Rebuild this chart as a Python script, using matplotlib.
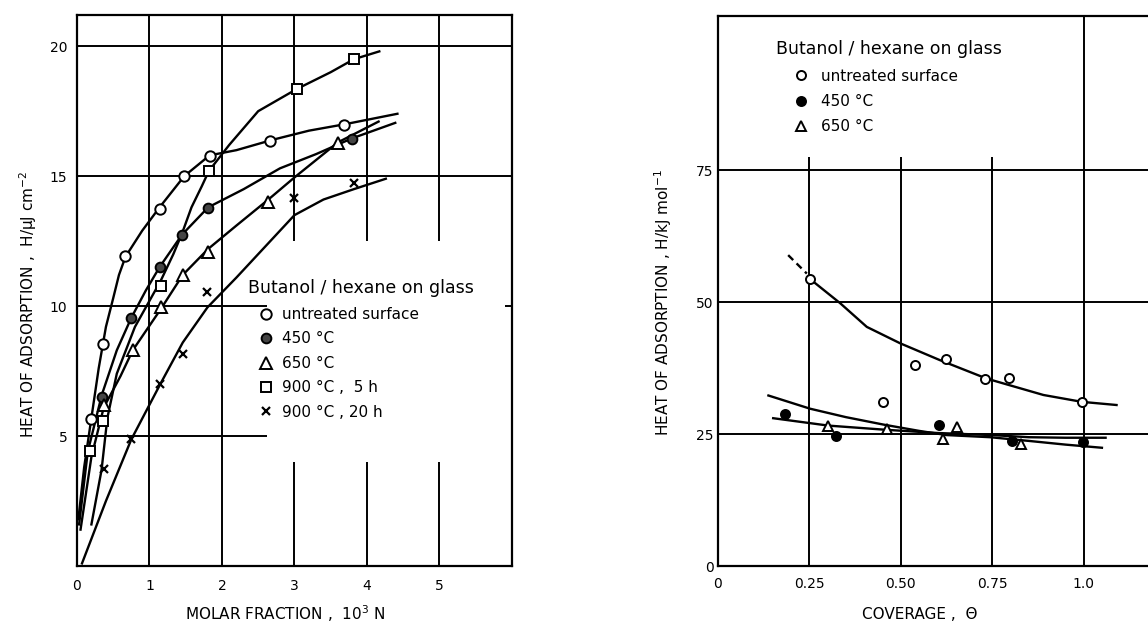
import matplotlib
matplotlib.use("Agg")
import matplotlib.pyplot as plt

plt.rcParams["font.family"] = ["DejaVu Sans"]
plt.rcParams["mathtext.fontset"] = "dejavusans"

# ─── left panel data: heat of adsorption vs molar fraction ────────────────────
untreated_x = [0.20, 0.36, 0.665, 1.14, 1.48, 1.83, 2.66, 3.68]
untreated_y = [5.65, 8.55, 11.94, 13.74, 14.99, 15.79, 16.34, 16.98]
t450_x = [0.345, 0.75, 1.14, 1.45, 1.81, 3.79]
t450_y = [6.52, 9.54, 11.51, 12.73, 13.76, 16.44]
t650_x = [0.37, 0.77, 1.16, 1.46, 1.81, 2.64, 3.60]
t650_y = [6.18, 8.31, 9.95, 11.20, 12.09, 14.00, 16.29]
t900_5h_x = [0.18, 0.36, 1.16, 1.82, 3.03, 3.82]
t900_5h_y = [4.41, 5.57, 10.76, 15.19, 18.35, 19.50]
t900_20h_x = [0.37, 0.75, 1.15, 1.46, 1.80, 2.99, 3.82]
t900_20h_y = [3.73, 4.87, 7.01, 8.15, 10.56, 14.15, 14.72]

# hand-drawn curves
fit_untreated_x = [0.02, 0.10, 0.20, 0.30, 0.40, 0.50, 0.58, 0.67, 0.90, 1.14, 1.48, 1.83, 2.20, 2.70, 3.20, 3.70, 4.42]
fit_untreated_y = [1.8, 3.8, 5.7, 7.6, 9.2, 10.3, 11.2, 11.9, 12.9, 13.8, 15.0, 15.8, 16.0, 16.4, 16.75, 17.0, 17.4]
fit_450_x = [0.03, 0.15, 0.345, 0.55, 0.75, 0.95, 1.14, 1.45, 1.81, 2.30, 2.80, 3.30, 3.79, 4.39]
fit_450_y = [1.6, 4.4, 6.6, 8.3, 9.55, 10.6, 11.5, 12.75, 13.8, 14.5, 15.3, 15.85, 16.45, 17.05]
fit_650_x = [0.05, 0.20, 0.37, 0.60, 0.77, 1.16, 1.46, 1.81, 2.20, 2.64, 3.00, 3.60, 4.16]
fit_650_y = [1.4, 4.2, 6.1, 7.3, 8.3, 9.9, 11.2, 12.2, 13.1, 14.1, 14.95, 16.3, 17.1]
fit_5h_x = [0.20, 0.34, 0.42, 0.55, 0.80, 1.00, 1.16, 1.33, 1.45, 1.58, 1.72, 1.82, 2.10, 2.50, 3.03, 3.50, 3.82, 4.17]
fit_5h_y = [1.6, 3.7, 5.7, 7.4, 9.2, 10.2, 11.0, 12.0, 12.8, 13.8, 14.6, 15.2, 16.2, 17.5, 18.35, 19.0, 19.5, 19.8]
fit_20h_x = [0.07, 0.40, 0.75, 1.15, 1.46, 1.80, 2.20, 2.60, 3.00, 3.40, 3.82, 4.26]
fit_20h_y = [0.1, 2.5, 4.87, 7.0, 8.6, 9.95, 11.1, 12.3, 13.5, 14.1, 14.5, 14.9]

x_ticks_left = [0, 1, 2, 3, 4, 5]
y_ticks_left = [5, 10, 15, 20]

# ─── right panel data: heat of adsorption vs coverage ─────────────────────────
cov_untreated_x = [0.252, 0.45, 0.539, 0.624, 0.73, 0.797, 0.995]
cov_untreated_y = [54.3, 31.1, 38.1, 39.3, 35.5, 35.7, 31.1]
cov_450_x = [0.183, 0.323, 0.605, 0.805, 0.998]
cov_450_y = [28.8, 24.6, 26.7, 23.7, 23.4]
cov_650_x = [0.30, 0.461, 0.616, 0.653, 0.828]
cov_650_y = [26.5, 25.9, 24.0, 26.4, 23.2]

fit_cov_dash_x = [0.192, 0.243]
fit_cov_dash_y = [58.9, 55.4]
fit_cov_untreated_x = [0.262, 0.334, 0.407, 0.498, 0.607, 0.735, 0.89, 0.995, 1.09]
fit_cov_untreated_y = [53.8, 49.8, 45.3, 42.2, 39.0, 35.5, 32.4, 31.1, 30.5]
fit_cov_a_x = [0.138, 0.252, 0.35, 0.452, 0.55, 0.626, 0.744, 0.85, 0.95, 1.05]
fit_cov_a_y = [32.3, 29.8, 28.2, 26.8, 25.6, 24.8, 24.4, 23.7, 23.0, 22.4]
fit_cov_b_x = [0.151, 0.302, 0.46, 0.60, 0.75, 0.85, 0.95, 1.06]
fit_cov_b_y = [28.0, 26.6, 25.8, 25.2, 24.8, 24.4, 24.3, 24.3]

x_ticks_right = [0, 0.25, 0.5, 0.75, 1.0]
x_ticklabels_right = ["0", "0.25", "0.50", "0.75", "1.0"]
y_ticks_right = [0, 25, 50, 75]

# ─── style ────────────────────────────────────────────────────────────────────
LW_CURVE = 1.7
LW_GRID = 1.4
TICK_FS = 10
LABEL_FS = 11


def _frame(ax, right=True):
    for side in ["left", "right", "top", "bottom"]:
        ax.spines[side].set_linewidth(1.6)
    ax.spines["right"].set_visible(right)
    ax.tick_params(length=0, labelsize=TICK_FS)


def _pts(ax, x, y, marker, size, face="white", mew=1.4):
    return ax.plot(x, y, ls="none", marker=marker, ms=size, mfc=face,
                   mec="black", mew=mew, color="black", zorder=4)[0]


fig = plt.figure(figsize=(11.48, 6.25), dpi=100)

# ─── left panel ───────────────────────────────────────────────────────────────
ax1 = fig.add_axes([0.067, 0.0944, 0.379, 0.8816])
ax1.set_xlim(0, 6.0)
ax1.set_ylim(0, 21.2)
_frame(ax1)

kw = dict(color="black", lw=LW_GRID, zorder=1)
ax1.hlines([15, 20], 0, 6.0, **kw)
ax1.hlines([5, 10], 0, 2.62, **kw)
ax1.hlines(10, 5.91, 6.0, **kw)
ax1.vlines([1, 2], 0, 21.2, **kw)
ax1.vlines([3, 4, 5], 0, 4.0, **kw)
ax1.vlines([3, 4, 5], 12.5, 21.2, **kw)

for cx, cy in [(fit_untreated_x, fit_untreated_y), (fit_450_x, fit_450_y),
               (fit_650_x, fit_650_y), (fit_5h_x, fit_5h_y), (fit_20h_x, fit_20h_y)]:
    ax1.plot(cx, cy, color="black", lw=LW_CURVE, zorder=2)

h1 = _pts(ax1, untreated_x, untreated_y, "o", 7.5)
h2 = _pts(ax1, t450_x, t450_y, "o", 7, face="#444444")
h3 = _pts(ax1, t650_x, t650_y, "^", 9)
h4 = _pts(ax1, t900_5h_x, t900_5h_y, "s", 7)
h5 = _pts(ax1, t900_20h_x, t900_20h_y, "x", 5.5, mew=1.6)

ax1.set_xticks(x_ticks_left)
ax1.set_yticks(y_ticks_left)
ax1.tick_params(axis="x", pad=9)
ax1.tick_params(axis="y", pad=7)
ax1.set_xlabel("MOLAR FRACTION ,  10$^3$ N", fontsize=LABEL_FS)
ax1.set_ylabel("HEAT OF ADSORPTION ,  H/\u03bcJ cm$^{-2}$", fontsize=LABEL_FS)
ax1.xaxis.set_label_coords(0.478, -0.068)
ax1.yaxis.set_label_coords(-0.088, 0.475)

ax1.legend([h1, h2, h3, h4, h5],
           ["untreated surface", "450 \u00b0C", "650 \u00b0C",
            "900 \u00b0C ,  5 h", "900 \u00b0C , 20 h"],
           title="Butanol / hexane on glass", title_fontsize=12.5,
           fontsize=11, loc="upper left", bbox_to_anchor=(0.393, 0.52),
           frameon=False, borderpad=0, borderaxespad=0,
           handlelength=2.4, handletextpad=-0.2, labelspacing=0.62,
           alignment="left")

# ─── right panel ──────────────────────────────────────────────────────────────
ax2 = fig.add_axes([0.6254, 0.0944, 0.3746, 0.88])
ax2.set_xlim(0, 1.176)
ax2.set_ylim(0, 104.2)
_frame(ax2, right=False)

ax2.hlines([25, 50, 75], 0, 1.176, **kw)
ax2.vlines([0.25, 0.5, 0.75], 0, 77.5, **kw)
ax2.vlines(1.0, 0, 104.2, **kw)

ax2.plot(fit_cov_dash_x, fit_cov_dash_y, color="black", lw=LW_CURVE,
         ls=(0, (3, 2)), zorder=2)
for cx, cy in [(fit_cov_untreated_x, fit_cov_untreated_y),
               (fit_cov_a_x, fit_cov_a_y), (fit_cov_b_x, fit_cov_b_y)]:
    ax2.plot(cx, cy, color="black", lw=LW_CURVE, zorder=2)

g1 = _pts(ax2, cov_untreated_x, cov_untreated_y, "o", 6.5)
g2 = _pts(ax2, cov_450_x, cov_450_y, "o", 6.5, face="black")
g3 = _pts(ax2, cov_650_x, cov_650_y, "^", 7)

ax2.set_xticks(x_ticks_right)
ax2.set_xticklabels(x_ticklabels_right)
ax2.set_yticks(y_ticks_right)
ax2.tick_params(axis="x", pad=8)
ax2.tick_params(axis="y", pad=3)
ax2.set_xlabel("COVERAGE ,  \u0398", fontsize=LABEL_FS)
ax2.set_ylabel("HEAT OF ADSORPTION , H/kJ mol$^{-1}$", fontsize=LABEL_FS)
ax2.xaxis.set_label_coords(0.47, -0.074)
ax2.yaxis.set_label_coords(-0.102, 0.478)

ax2.legend([g1, g2, g3], ["untreated surface", "450 \u00b0C", "650 \u00b0C"],
           title="Butanol / hexane on glass", title_fontsize=12.5,
           fontsize=11, loc="upper left", bbox_to_anchor=(0.134, 0.956),
           frameon=False, borderpad=0, borderaxespad=0,
           handlelength=3.3, handletextpad=-0.35, labelspacing=0.68,
           alignment="left")

fig.savefig("out.png", dpi=100)
